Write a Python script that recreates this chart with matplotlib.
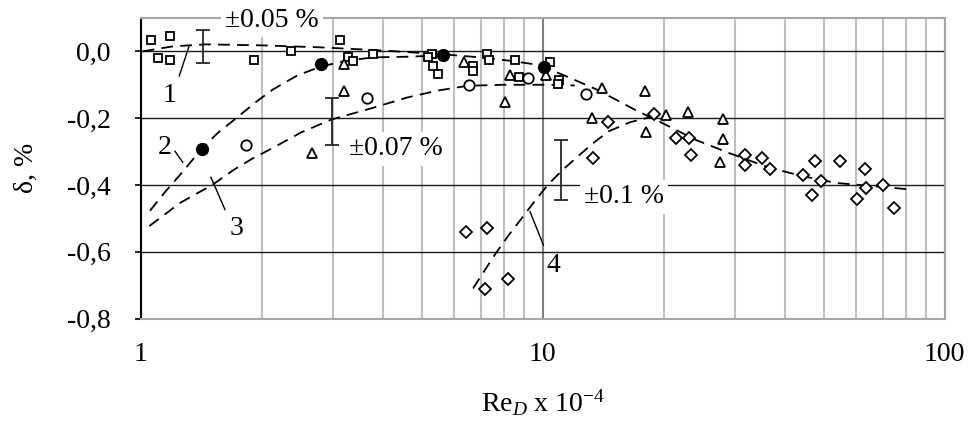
import numpy as np
import matplotlib
matplotlib.use("Agg")
import matplotlib.pyplot as plt
from matplotlib.ticker import FixedLocator, FixedFormatter, NullFormatter

plt.rcParams["font.family"] = ["Liberation Serif", "DejaVu Serif"]
plt.rcParams["mathtext.fontset"] = "custom"
plt.rcParams["mathtext.rm"] = "Liberation Serif"
plt.rcParams["mathtext.it"] = "Liberation Serif:italic"

FS = 20

# measured points (Re_D x 1e-4, delta %)
sq_x = [1.06, 1.18, 1.10, 1.18, 1.91, 2.36, 3.12, 3.28, 3.37, 3.78, 5.31, 5.19, 5.34, 5.49,
        6.69, 6.70, 7.28, 7.34, 8.52, 8.73, 10.4, 10.99, 10.9]
sq_y = [0.033, 0.046, -0.019, -0.026, -0.026, 0.001, 0.033, -0.017, -0.029, -0.009, -0.007,
        -0.017, -0.044, -0.067, -0.044, -0.059, -0.007, -0.027, -0.026, -0.077, -0.032,
        -0.087, -0.099]

dot_x = [1.42, 2.81, 5.65, 10.06]
dot_y = [-0.292, -0.039, -0.011, -0.046]

circ_x = [1.83, 3.66, 6.55, 9.16, 12.8]
circ_y = [-0.279, -0.141, -0.101, -0.079, -0.129]

tri_x = [3.2, 3.2, 2.66, 6.36, 8.28, 8.06, 10.2, 14.0, 13.25, 17.9, 18.1, 20.2, 23.0,
         28.1, 28.0, 27.6]
tri_y = [-0.119, -0.037, -0.304, -0.031, -0.071, -0.151, -0.072, -0.111, -0.201, -0.119,
         -0.242, -0.192, -0.181, -0.202, -0.262, -0.330]

dia_x = [6.42, 7.24, 7.18, 8.21, 13.3, 14.5, 18.9, 21.4, 23.1, 23.4, 31.8, 31.8, 35.1,
         36.7, 44.5, 47.6, 46.8, 49.3, 54.8, 60.6, 63.4, 63.7, 70.2, 74.9]
dia_y = [-0.541, -0.529, -0.712, -0.682, -0.319, -0.211, -0.189, -0.259, -0.259, -0.309,
         -0.309, -0.339, -0.319, -0.351, -0.369, -0.329, -0.431, -0.389, -0.329, -0.441,
         -0.351, -0.409, -0.399, -0.469]

# fitted curves
c1_x = [1.01, 1.2, 1.45, 2.0, 2.8, 3.8, 4.6, 5.8, 7.0, 8.4, 9.8, 11.4, 13.6, 15.5, 17.2,
        19.4, 24, 29, 36.7, 44.5, 53.6, 70, 83]
c1_y = [0.0, 0.015, 0.021, 0.018, 0.012, 0.004, -0.002, -0.010, -0.018, -0.029, -0.041,
        -0.074, -0.114, -0.150, -0.179, -0.209, -0.265, -0.304, -0.349, -0.374, -0.394,
        -0.406, -0.414]
c2_x = [1.053, 1.15, 1.25, 1.416, 1.55, 1.73, 1.93, 2.13, 2.45, 2.81, 3.25, 3.78, 4.6, 5.7]
c2_y = [-0.477, -0.42, -0.37, -0.292, -0.245, -0.199, -0.152, -0.114, -0.072, -0.045,
        -0.028, -0.018, -0.016, -0.012]
c3_x = [1.049, 1.15, 1.25, 1.38, 1.5, 1.7, 1.9, 2.13, 2.5, 2.98, 3.78, 4.6, 5.5, 6.5, 8.0,
        10.1, 12.0]
c3_y = [-0.523, -0.487, -0.454, -0.425, -0.401, -0.355, -0.320, -0.289, -0.243, -0.204,
        -0.169, -0.138, -0.117, -0.103, -0.100, -0.100, -0.102]
c4_x = [6.7, 7.2, 7.67, 8.25, 8.87, 9.55, 10.3, 11.2, 12.1, 13.3, 14.6, 16.5, 18.5]
c4_y = [-0.71, -0.652, -0.601, -0.548, -0.499, -0.448, -0.399, -0.355, -0.319, -0.276,
        -0.239, -0.212, -0.197]

# uncertainty bars
err_x = [1.43, 2.98, 11.12]
err_y = [0.015, -0.209, -0.355]
err_h = [0.05, 0.07, 0.09]
err_txt = ["±0.05 %", "±0.07 %", "±0.1 %"]

y_ticks = [0.0, -0.2, -0.4, -0.6, -0.8]
y_labels = ["0,0", "-0,2", "-0,4", "-0,6", "-0,8"]
x_ticks = [1, 10, 100]
x_labels = ["1", "10", "100"]

fig = plt.figure(figsize=(9.69, 4.23), dpi=100)
ax = fig.add_axes([0.1455, 0.247, 0.8295, 0.7105])
ax.set_xscale("log")
ax.set_xlim(1, 100)
ax.set_ylim(-0.8, 0.1)

ax.xaxis.set_major_locator(FixedLocator(x_ticks))
ax.xaxis.set_major_formatter(FixedFormatter(x_labels))
ax.xaxis.set_minor_locator(FixedLocator([k * 10.0 ** d for d in (0, 1) for k in range(2, 10)]))
ax.xaxis.set_minor_formatter(NullFormatter())
ax.yaxis.set_major_locator(FixedLocator(y_ticks))
ax.yaxis.set_major_formatter(FixedFormatter(y_labels))

ax.set_axisbelow(True)
ax.xaxis.grid(True, which="major", color="#7f7f7f", lw=1.5)
ax.xaxis.grid(True, which="minor", color="#bfbfbf", lw=1.5)
ax.yaxis.grid(True, which="major", color="#1a1a1a", lw=1.0)
ax.tick_params(axis="x", which="both", length=0, labelsize=FS, pad=17)
ax.tick_params(axis="y", length=4, width=1.2, labelsize=FS, pad=18)
for s in ["top", "right", "bottom"]:
    ax.spines[s].set_color("#a6a6a6")
    ax.spines[s].set_linewidth(1.5)
ax.spines["left"].set_color("black")
ax.spines["left"].set_linewidth(1.5)

dash = dict(color="black", lw=1.3, dashes=(6.5, 4), zorder=3)
ax.plot(c1_x, c1_y, **dash)
ax.plot(c2_x, c2_y, **dash)
ax.plot(c3_x, c3_y, **dash)
ax.plot(c4_x, c4_y, **dash)

mk = dict(ls="none", mec="black", mfc="white", mew=1.3, zorder=4)
ax.plot(sq_x, sq_y, marker="s", ms=6, **mk)
ax.plot(circ_x, circ_y, marker="o", ms=7.5, **mk)
ax.plot(tri_x, tri_y, marker="^", ms=7.5, **mk)
ax.plot(dia_x, dia_y, marker="D", ms=5.8, **mk)
ax.plot(dot_x, dot_y, ls="none", marker="o", ms=8.5, color="black", zorder=5)

ax.errorbar(err_x, err_y, yerr=err_h, fmt="none", ecolor="#262626", elinewidth=1.3,
            capsize=5, capthick=1.3, zorder=3)

box = dict(boxstyle="square,pad=0.15", fc="white", ec="none")
ax.text(2.115, 0.093, err_txt[0], fontsize=FS, ha="center", va="center", bbox=box,
        clip_on=False, zorder=6)
ax.text(4.31, -0.292, err_txt[1], fontsize=FS, ha="center", va="center", bbox=box, zorder=6)
ax.text(15.9, -0.436, err_txt[2], fontsize=FS, ha="center", va="center", bbox=box, zorder=6)

# curve numbers with leader lines
for lab, tx, ty, l0, l1 in [("1", 1.18, -0.132, (1.245, -0.074), (1.319, 0.018)),
                            ("2", 1.147, -0.288, (1.215, -0.299), (1.27, -0.332)),
                            ("3", 1.724, -0.529, (1.618, -0.474), (1.493, -0.377)),
                            ("4", 10.6, -0.64, (10.03, -0.58), (9.29, -0.48))]:
    ax.text(tx, ty, lab, fontsize=FS, ha="center", va="center", zorder=6)
    ax.plot([l0[0], l1[0]], [l0[1], l1[1]], color="black", lw=1.0, zorder=6)

ax.set_ylabel("δ, %", fontsize=FS, labelpad=20)
ax.set_xlabel(r"Re$_{\mathit{D}}$ x 10$^{\mathrm{-4}}$", fontsize=FS, labelpad=15)

fig.savefig("out.png", dpi=100)
